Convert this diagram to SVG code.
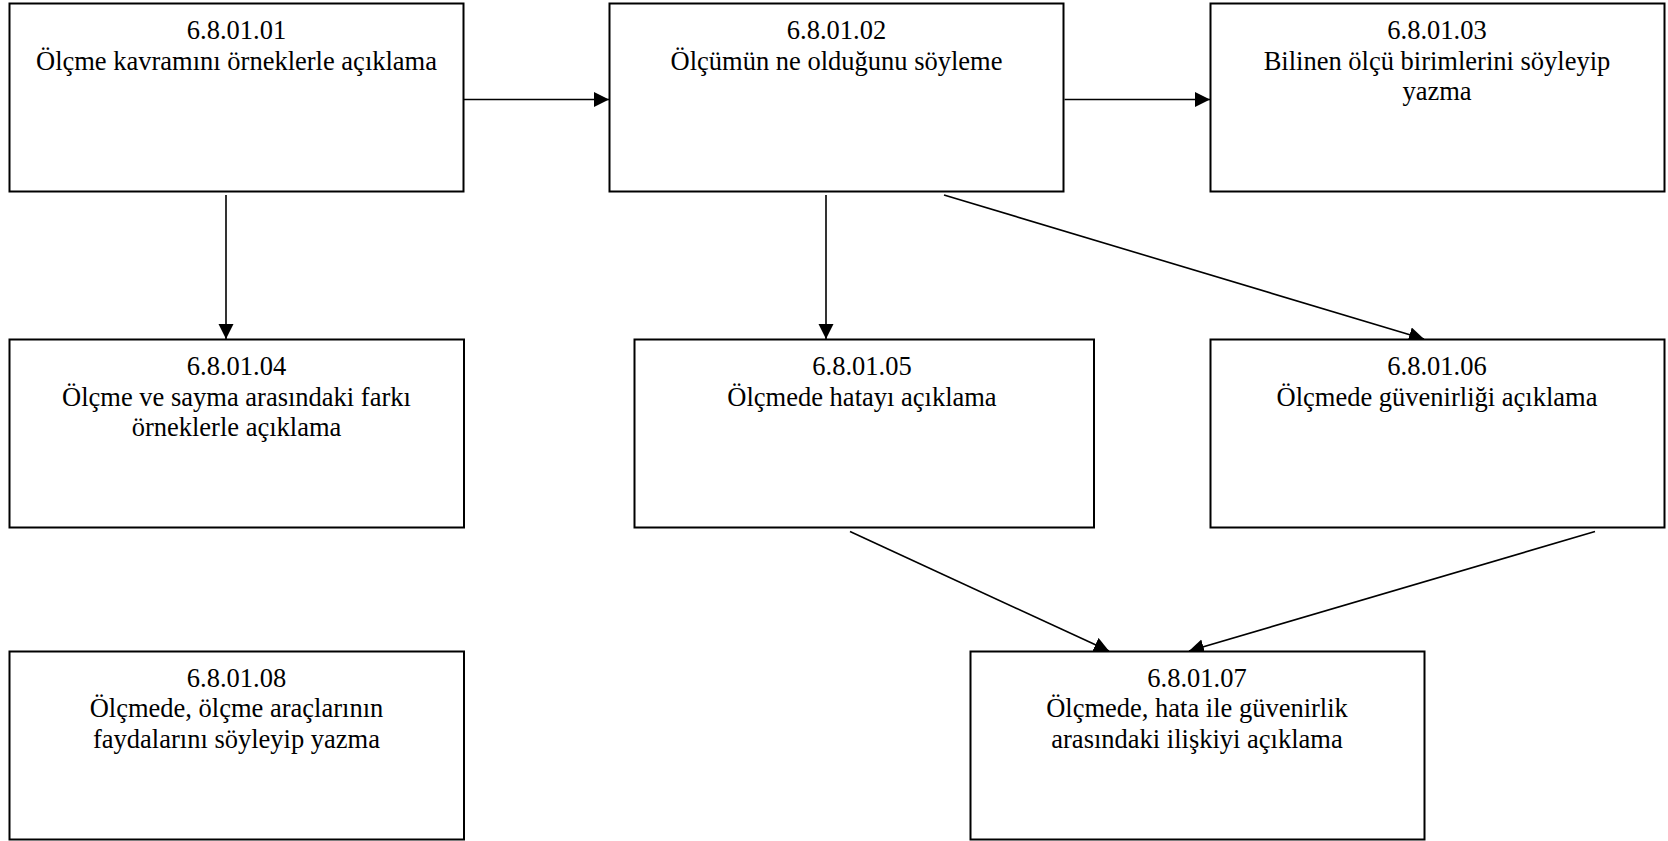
<svg xmlns="http://www.w3.org/2000/svg" width="1668" height="841" viewBox="0 0 1668 841">
<style>
.box{fill:#fff;stroke:#000;stroke-width:2}
.lbl{font-family:"Liberation Serif","Times New Roman",serif;font-size:26.5px;fill:#000;text-anchor:middle}
.edge{stroke:#000;stroke-width:1.6;fill:none;marker-end:url(#ah)}
</style>
<defs>
<marker id="ah" markerUnits="userSpaceOnUse" markerWidth="16" markerHeight="16" refX="15" refY="7.5" orient="auto">
<path d="M0,0 L15,7.5 L0,15 z" fill="#000"/>
</marker>
</defs>
<rect width="1668" height="841" fill="#fff"/>
<g id="connectors">
<line class="edge" x1="464" y1="99.5" x2="609" y2="99.5"/>
<line class="edge" x1="1064.5" y1="99.5" x2="1210" y2="99.5"/>
<line class="edge" x1="226" y1="195" x2="226" y2="339"/>
<line class="edge" x1="826" y1="195" x2="826" y2="339"/>
<line class="edge" x1="944" y1="195" x2="1424" y2="339"/>
<line class="edge" x1="850" y1="531.5" x2="1109" y2="651"/>
<line class="edge" x1="1595" y1="531.5" x2="1189" y2="651"/>
</g>
<g id="n1">
<rect class="box" x="9.5" y="3.5" width="454" height="188"/>
<text class="lbl" x="236.5" y="39">6.8.01.01</text>
<text class="lbl" x="236.5" y="69.5">Ölçme kavramını örneklerle açıklama</text>
</g>
<g id="n2">
<rect class="box" x="609.5" y="3.5" width="454" height="188"/>
<text class="lbl" x="836.5" y="39">6.8.01.02</text>
<text class="lbl" x="836.5" y="69.5">Ölçümün ne olduğunu söyleme</text>
</g>
<g id="n3">
<rect class="box" x="1210.5" y="3.5" width="454" height="188"/>
<text class="lbl" x="1437" y="39">6.8.01.03</text>
<text class="lbl" x="1437" y="69.5">Bilinen ölçü birimlerini söyleyip</text>
<text class="lbl" x="1437" y="100">yazma</text>
</g>
<g id="n4">
<rect class="box" x="9.5" y="339.5" width="454.5" height="188"/>
<text class="lbl" x="236.5" y="375">6.8.01.04</text>
<text class="lbl" x="236.5" y="405.5">Ölçme ve sayma arasındaki farkı</text>
<text class="lbl" x="236.5" y="436">örneklerle açıklama</text>
</g>
<g id="n5">
<rect class="box" x="634.5" y="339.5" width="459.5" height="188"/>
<text class="lbl" x="862" y="375">6.8.01.05</text>
<text class="lbl" x="862" y="405.5">Ölçmede hatayı açıklama</text>
</g>
<g id="n6">
<rect class="box" x="1210.5" y="339.5" width="454" height="188"/>
<text class="lbl" x="1437" y="375">6.8.01.06</text>
<text class="lbl" x="1437" y="405.5">Ölçmede güvenirliği açıklama</text>
</g>
<g id="n7">
<rect class="box" x="970.5" y="651.5" width="454" height="188"/>
<text class="lbl" x="1197" y="686.5">6.8.01.07</text>
<text class="lbl" x="1197" y="717">Ölçmede, hata ile güvenirlik</text>
<text class="lbl" x="1197" y="747.5">arasındaki ilişkiyi açıklama</text>
</g>
<g id="n8">
<rect class="box" x="9.5" y="651.5" width="454.5" height="188"/>
<text class="lbl" x="236.5" y="686.5">6.8.01.08</text>
<text class="lbl" x="236.5" y="717">Ölçmede, ölçme araçlarının</text>
<text class="lbl" x="236.5" y="747.5">faydalarını söyleyip yazma</text>
</g>
</svg>
